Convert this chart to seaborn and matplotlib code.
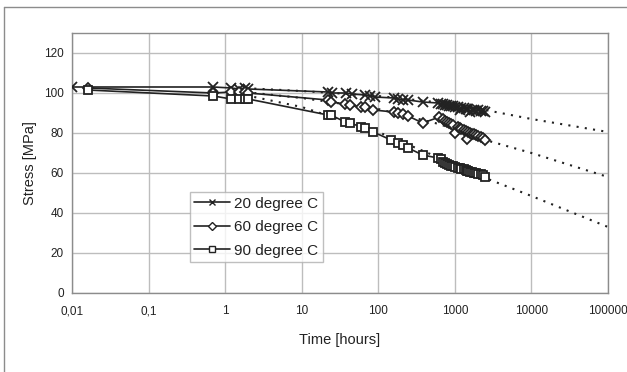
import matplotlib
matplotlib.use("Agg")
from matplotlib import pyplot as plt
from matplotlib.lines import Line2D
from matplotlib.ticker import FixedLocator, FixedFormatter, NullLocator
import pandas as pd
import seaborn as sns

tail_t = [650, 700, 750, 800, 850, 900, 950, 1000, 1100, 1150, 1200, 1300,
          1400, 1450, 1500, 1600, 1700, 1800, 1900, 2000, 2200, 2350, 2500]

t_20 = [0.01, 0.7, 1.2, 1.5, 1.8, 2.0, 22, 25, 38, 45, 67, 78, 90, 160, 180,
        210, 245, 380, 600] + tail_t
s_20 = [103, 103, 102.5, 102, 102.5, 102, 100.5, 100, 100, 99.5, 99, 98.5, 98,
        97.5, 97, 96.5, 96.5, 95.5, 95,
        94.5, 94.5, 94, 94, 93.5, 93.5, 93.5, 93, 93, 91.5, 92.5, 92.5,
        92, 92, 92, 90.5, 91.5, 91.5, 91, 91.5, 91, 91, 90.5]

t_60 = [0.016, 0.7, 1.2, 1.5, 1.8, 2.0, 22, 24, 37, 43, 60, 67, 86, 160, 180,
        210, 245, 380, 630] + tail_t[1:]
s_60 = [102.5, 100, 100.5, 100.5, 100.5, 100, 96.5, 95.5, 94.5, 94, 93, 93,
        91.5, 90.5, 90, 89.5, 88.5, 85, 88,
        87, 86, 85.5, 85, 84.5, 84, 80, 83, 82.5, 82, 81.5,
        81, 77, 80.5, 80, 79.5, 79.5, 79, 78.5, 78, 77.5, 76.5]

t_90 = [0.016, 0.7, 1.2, 1.5, 1.8, 2.0, 22, 24, 37, 43, 60, 67, 86, 147, 180,
        210, 245, 380, 600] + tail_t
s_90 = [101.5, 98.5, 97, 97, 97, 97, 89, 89, 85.5, 85, 83, 82.5, 80.5, 76.5,
        75, 74, 72.5, 69, 67.5,
        67, 65.5, 65, 64.5, 64, 63.5, 63.5, 63, 62.5, 62.5, 62, 62,
        61.5, 61, 61, 60.5, 60.5, 60, 60, 59.5, 59.5, 59, 58]

# dotted extrapolation curves
trend_t = [2.4, 10, 100, 550, 1000, 2500, 10000, 100000]
trend_20 = [102.2, 101, 98.5, 95.5, 94, 91.5, 87, 80.5]
trend_60 = [100, 97.5, 92, 85, 82, 76.5, 70, 58]
trend_90 = [98, 93, 80.5, 68.5, 62.5, 57.5, 48.5, 33]

x_ticks = [0.01, 0.1, 1, 10, 100, 1000, 10000, 100000]
x_labels = ["0,01", "0,1", "1", "10", "100", "1000", "10000", "100000"]
y_ticks = [0, 20, 40, 60, 80, 100, 120]

series = [
    ("20 degree C", t_20, s_20, trend_20, "x"),
    ("60 degree C", t_60, s_60, trend_60, "D"),
    ("90 degree C", t_90, s_90, trend_90, "s"),
]


def main():
    sns.set_style("white")
    plt.rcParams["font.family"] = ["Liberation Sans", "DejaVu Sans"]

    fig = plt.figure(figsize=(6.27, 3.72), dpi=100)
    ax = fig.add_axes([0.1148, 0.2124, 0.8549, 0.6989])
    ink = "#222222"

    for label, t, s, trend, marker in series:
        trend_df = pd.DataFrame({"t": trend_t, "s": trend})
        sns.lineplot(data=trend_df, x="t", y="s", ax=ax, color=ink, lw=1.5,
                     linestyle=(0, (1, 3)), estimator=None, sort=False, zorder=2)

    for label, t, s, trend, marker in series:
        df = pd.DataFrame({"t": t, "s": s})
        face = ink if marker == "x" else "white"
        size = 7 if marker == "x" else (5 if marker == "D" else 5.5)
        sns.lineplot(data=df, x="t", y="s", ax=ax, color=ink, lw=1.2,
                     marker=marker, markersize=size, markerfacecolor=face,
                     markeredgecolor=ink, markeredgewidth=1.3,
                     estimator=None, sort=False, label=label, zorder=3)

    ax.set_xscale("log")
    ax.set_xlim(0.01, 100000)
    ax.set_ylim(0, 130)
    ax.xaxis.set_major_locator(FixedLocator(x_ticks))
    ax.xaxis.set_major_formatter(FixedFormatter(x_labels))
    ax.xaxis.set_minor_locator(NullLocator())
    ax.set_yticks(y_ticks)
    ax.grid(True, color="#bdbdbd", lw=1.0)
    ax.set_axisbelow(True)
    for sp in ax.spines.values():
        sp.set_color("#8c8c8c")
        sp.set_linewidth(1.0)
    ax.tick_params(axis="both", labelsize=8.5, colors=ink, length=3,
                   width=1.0, color="#8c8c8c", pad=3)
    ax.tick_params(axis="x", length=0, pad=9)

    ax.set_xlabel("Time [hours]", fontsize=10.5, color=ink, labelpad=11)
    ax.set_ylabel("Stress [MPa]", fontsize=10.5, color=ink, labelpad=5)

    leg = ax.legend(loc="lower left", bbox_to_anchor=(0.22, 0.118),
                    fontsize=11, frameon=True, fancybox=False,
                    borderpad=0.3, labelspacing=0.62, handlelength=2.3,
                    handletextpad=0.3, borderaxespad=0)
    leg.get_frame().set_edgecolor("#b0b0b0")
    leg.get_frame().set_linewidth(1.0)
    for txt in leg.get_texts():
        txt.set_color(ink)
    # the legend keys use smaller symbols than the plotted points
    for handle in leg.legend_handles:
        handle.set_markersize(4)
        handle.set_markeredgewidth(1.0)

    # outer frame of the original chart (left and top edges only visible)
    fig.add_artist(Line2D([4 / 627, 1], [1 - 7 / 372, 1 - 7 / 372],
                          transform=fig.transFigure, color="#8c8c8c", lw=1.0))
    fig.add_artist(Line2D([4 / 627, 4 / 627], [0, 1 - 7 / 372],
                          transform=fig.transFigure, color="#8c8c8c", lw=1.0))

    fig.savefig("out.png", dpi=100)


if __name__ == "__main__":
    main()
